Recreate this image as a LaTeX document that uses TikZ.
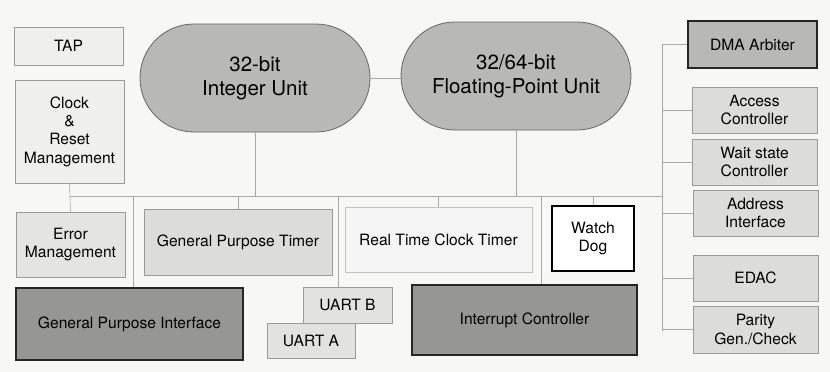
\documentclass[tikz,border=0pt]{standalone}
\usepackage{fontspec}
\setmainfont{TeX Gyre Heros}
\usetikzlibrary{positioning, calc}
\definecolor{paper}{HTML}{F7F7F6}
\definecolor{wire}{HTML}{A8A8A8}
\definecolor{lightEdge}{HTML}{9A9A9A}
\definecolor{paleFill}{HTML}{EFEFEE}
\definecolor{softFill}{HTML}{DCDCDB}
\definecolor{midFill}{HTML}{B8B8B7}
\definecolor{darkFill}{HTML}{969695}
\newcommand\boxfont{\fontsize{15.6}{18.3}\selectfont}
\newcommand\unitfont{\fontsize{20.5}{24}\selectfont}

\begin{document}
\begin{tikzpicture}[x=1pt,y=-1pt]
    \tikzset{box/.style={draw=lightEdge,fill=paleFill,line width=0.6pt,align=center,font=\boxfont,inner sep=0pt}, soft/.style={box,fill=softFill}, dark/.style={draw=black!85,fill=darkFill,line width=1.3pt,align=center,font=\boxfont,inner sep=0pt}, unit/.style={draw=black!60,fill=midFill,line width=0.8pt,rounded corners=54pt,align=center,font=\unitfont,minimum width=230pt,minimum height=108pt}, bus/.style={draw=wire,line width=0.6pt}}
    \useasboundingbox[fill=paper] (0,0) rectangle (830,372);
    % left column
    \node[box,minimum width=109pt,minimum height=38pt] (tap) at (68.5,46) {TAP};
    \node[box,minimum width=109pt,minimum height=103pt] (clk) at (69.5,131.5) {Clock\\\&\\Reset\\Management};
    % processing units
    \node[unit] (iu) at (255,78) {32-bit\\Integer Unit};
    \node[unit] (fpu) at (516,76) {32/64-bit\\Floating-Point Unit};
    % right column
    \node[dark,fill=midFill,minimum width=129pt,minimum height=47pt] (dma) at (752.5,44.5) {DMA Arbiter};
    \node[soft,minimum width=125pt,minimum height=46pt] (acc) at (754.5,110) {Access\\Controller};
    \node[soft,minimum width=125pt,minimum height=46pt] (wait) at (754.5,162) {Wait state\\Controller};
    \node[soft,minimum width=125pt,minimum height=46pt] (addr) at (755.5,213) {Address\\Interface};
    \node[soft,minimum width=125pt,minimum height=46pt] (edac) at (755.5,278) {EDAC};
    \node[soft,minimum width=125pt,minimum height=47pt] (par) at (755.5,329.5) {Parity\\Gen./Check};
    % peripherals
    \node[box,fill=softFill!60!paleFill,minimum width=109pt,minimum height=65pt] (err) at (70.5,244.5) {Error\\Management};
    \node[soft,minimum width=188pt,minimum height=66pt] (gpt) at (238,242) {General Purpose Timer};
    \node[box,fill=paleFill!60!white,draw=lightEdge!60,minimum width=187pt,minimum height=65pt] (rtc) at (438.5,239.5) {Real Time Clock Timer};
    \node[box,fill=white,draw=black,line width=1.4pt,minimum width=82pt,minimum height=65pt] (wdog) at (593,238.5) {Watch\\Dog};
    \node[dark,minimum width=227pt,minimum height=72pt] (gpi) at (129.5,324) {General Purpose Interface};
    \node[box,fill=softFill!70!paleFill,minimum width=89pt,minimum height=36pt] (uartb) at (347.5,305) {UART B};
    \node[box,fill=softFill!70!paleFill,minimum width=88pt,minimum height=35pt] (uarta) at (311,340.5) {UART A};
    \node[dark,minimum width=225pt,minimum height=70pt] (irq) at (524.5,320) {Interrupt Controller};
    % buses
    \coordinate (busL) at (70,196);
    \coordinate (busR) at (662,196);
    \coordinate (rtop) at (662,44.5);
    \coordinate (rbot) at (662,331);
    \coordinate (tgpi) at (133,196);
    \coordinate (tuart) at (338,196);
    \coordinate (tirq) at (541,196);
    \draw[bus] (busL) -- (busR);
    \draw[bus] (rtop) -- (rbot);
    \draw[bus] (clk.south) -- (err.north);
    \draw[bus] (iu.south) -- (iu.south |- busL);
    \draw[bus] (fpu.south) -- (fpu.south |- busL);
    \draw[bus] (iu.east) -- (iu.east -| fpu.west);
    \draw[bus] (tgpi) -- (tgpi |- gpi.north);
    \draw[bus] (gpt.north |- busL) -- (gpt.north);
    \draw[bus] (tuart) -- (tuart |- uartb.north);
    \draw[bus] (rtc.north |- busL) -- (rtc.north);
    \draw[bus] (tirq) -- (tirq |- irq.north);
    \draw[bus] (wdog.north |- busL) -- (wdog.north);
    \foreach \n in {dma,acc,wait,addr,edac,par}
      \draw[bus] (\n.west -| rtop) -- (\n.west);
\end{tikzpicture}
\end{document}
